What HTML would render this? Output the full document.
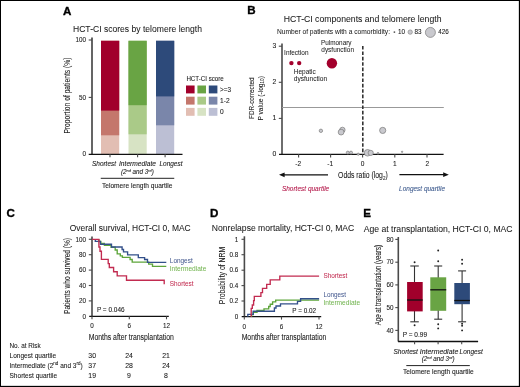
<!DOCTYPE html>
<html><head><meta charset="utf-8">
<style>
html,body{margin:0;padding:0;background:#fff;}
body{width:520px;height:387px;overflow:hidden;}
svg{display:block;will-change:transform;font-family:"Liberation Sans",sans-serif;}
text{fill:currentColor;stroke:currentColor;stroke-width:0.08px;color:#1a1a1a;}
.t{stroke-width:0.05px;}
.lt text{stroke-width:0.03px;}
.b{font-weight:bold;color:#000;stroke-width:0.35px;}
.it{font-style:italic;}
</style></head><body>
<svg width="520" height="387" viewBox="0 0 520 387">
<rect x="0" y="0" width="520" height="387" fill="#fff"/>

<!-- ============ PANEL A ============ -->
<text class="b" x="63.1" y="14.8" font-size="11.6">A</text>
<text class="t" x="73" y="32" font-size="8.4" textLength="129" lengthAdjust="spacingAndGlyphs">HCT-CI scores by telomere length</text>
<!-- y label -->
<text transform="translate(70.2,133.6) rotate(-90)" font-size="8.3" textLength="76" lengthAdjust="spacingAndGlyphs">Proportion of patients (%)</text>
<!-- ticks labels -->
<g font-size="6.3" text-anchor="end">
<text x="86" y="41.8">100</text>
<text x="86" y="99.8">50</text>
<text x="86" y="156.3">0</text>
</g>
<!-- bars -->
<g>
<rect x="101" y="40.8" width="18.2" height="113.4" fill="#e2beb3"/>
<rect x="101" y="40.8" width="18.2" height="94.5" fill="#c4776c"/>
<rect x="101" y="40.8" width="18.2" height="69.8" fill="#a1002b"/>
<rect x="128.5" y="40.8" width="18.2" height="113.4" fill="#d7e3c4"/>
<rect x="128.5" y="40.8" width="18.2" height="93.5" fill="#aaca88"/>
<rect x="128.5" y="40.8" width="18.2" height="64.4" fill="#69a444"/>
<rect x="156" y="40.8" width="18.2" height="113.4" fill="#bcbfd4"/>
<rect x="156" y="40.8" width="18.2" height="84.5" fill="#7a86aa"/>
<rect x="156" y="40.8" width="18.2" height="55.6" fill="#2d4a7a"/>
</g>
<!-- axes -->
<g stroke="#4a4a4a" fill="none">
<line x1="92" y1="37.5" x2="92" y2="154.3" stroke-width="1.7"/>
<line x1="88.7" y1="40" x2="92" y2="40" stroke-width="1.1"/>
<line x1="88.7" y1="97.4" x2="92" y2="97.4" stroke-width="1.1"/>
<line x1="88.7" y1="154.3" x2="182.5" y2="154.3" stroke-width="1.3" stroke="#111"/>
<line x1="110" y1="154.3" x2="110" y2="157.3" stroke-width="1.1"/>
<line x1="137.6" y1="154.3" x2="137.6" y2="157.3" stroke-width="1.1"/>
<line x1="165.1" y1="154.3" x2="165.1" y2="157.3" stroke-width="1.1"/>
<line x1="100.75" y1="178.3" x2="174.25" y2="178.3" stroke-width="1" stroke="#222"/>
</g>
<g font-size="6.3" class="it">
<text class="it" x="92" y="166" textLength="24" lengthAdjust="spacingAndGlyphs">Shortest</text>
<text class="it" x="119" y="166" textLength="37" lengthAdjust="spacingAndGlyphs">Intermediate</text>
<text class="it" x="159.5" y="166" textLength="23" lengthAdjust="spacingAndGlyphs">Longest</text>
<text class="it" x="121" y="174">(2<tspan font-size="3.8" dy="-2.2">nd</tspan><tspan dy="2.2"> and 3</tspan><tspan font-size="3.8" dy="-2.2">rd</tspan><tspan dy="2.2">)</tspan></text>
</g>
<text x="102" y="187.5" font-size="6.3" textLength="70.5" lengthAdjust="spacingAndGlyphs">Telomere length quartile</text>
<!-- legend -->
<text x="186.4" y="80.6" font-size="6.5" textLength="37.4" lengthAdjust="spacingAndGlyphs">HCT-CI score</text>
<g>
<rect x="186" y="85.5" width="8.6" height="7.9" fill="#a1002b"/>
<rect x="197.4" y="85.5" width="8.6" height="7.9" fill="#69a444"/>
<rect x="208.8" y="85.5" width="8.6" height="7.9" fill="#2d4a7a"/>
<rect x="186" y="96.7" width="8.6" height="7.9" fill="#c4776c"/>
<rect x="197.4" y="96.7" width="8.6" height="7.9" fill="#aaca88"/>
<rect x="208.8" y="96.7" width="8.6" height="7.9" fill="#7a86aa"/>
<rect x="186" y="107.9" width="8.6" height="7.9" fill="#e2beb3"/>
<rect x="197.4" y="107.9" width="8.6" height="7.9" fill="#d7e3c4"/>
<rect x="208.8" y="107.9" width="8.6" height="7.9" fill="#bcbfd4"/>
</g>
<g font-size="6.6">
<text x="220" y="91.8" textLength="11" lengthAdjust="spacingAndGlyphs">&gt;=3</text>
<text x="220" y="103.2" textLength="9.6" lengthAdjust="spacingAndGlyphs">1-2</text>
<text x="220" y="114.4">0</text>
</g>

<!-- ============ PANEL B ============ -->
<text class="b" x="247.2" y="14.3" font-size="11.6">B</text>
<text class="t" x="283.8" y="21.7" font-size="8.4" textLength="157.7" lengthAdjust="spacingAndGlyphs">HCT-CI components and telomere length</text>
<text x="277" y="34.1" font-size="6.4" style="stroke-width:0.03px" textLength="113" lengthAdjust="spacingAndGlyphs">Number of patients with a comorbidity:</text>
<circle cx="394.4" cy="32.1" r="0.9" fill="#555"/>
<text x="398.1" y="34.3" font-size="6.3">10</text>
<circle cx="410.2" cy="32.1" r="2.2" fill="#c9c9ce" stroke="#7a7a7a" stroke-width="0.6"/>
<text x="414.6" y="34.3" font-size="6.3">83</text>
<circle cx="430.4" cy="32.4" r="5" fill="#c9c9ce" stroke="#7a7a7a" stroke-width="0.7"/>
<text x="438.2" y="34.3" font-size="6.3">426</text>
<!-- y label -->
<text transform="translate(254,119) rotate(-90)" font-size="7.8" textLength="41.6" lengthAdjust="spacingAndGlyphs">FDR-corrected</text>
<text transform="translate(262.8,120.6) rotate(-90)" font-size="7.8" textLength="44.5" lengthAdjust="spacingAndGlyphs">P value (-log<tspan font-size="5.4" dy="1.6">10</tspan><tspan dy="-1.6">)</tspan></text>
<g font-size="6.8" text-anchor="end">
<text x="276.4" y="48">3</text>
<text x="276.4" y="83.9">2</text>
<text x="276.4" y="120.1">1</text>
<text x="276.4" y="156.3">0</text>
</g>
<g stroke="#4a4a4a" fill="none">
<line x1="282" y1="43.4" x2="282" y2="154.3" stroke-width="1.6"/>
<line x1="278.8" y1="46.2" x2="282" y2="46.2" stroke-width="1.1"/>
<line x1="278.8" y1="82.3" x2="282" y2="82.3" stroke-width="1.1"/>
<line x1="278.8" y1="118.4" x2="282" y2="118.4" stroke-width="1.1"/>
<line x1="282" y1="107.5" x2="443.8" y2="107.5" stroke="#999" stroke-width="1"/>
<line x1="362.8" y1="46" x2="362.8" y2="154" stroke="#333" stroke-width="1.6" stroke-dasharray="3.6 1.8"/>
<line x1="279" y1="154.3" x2="443.6" y2="154.3" stroke-width="1.3" stroke="#111"/>
<line x1="298.6" y1="154.3" x2="298.6" y2="157.5" stroke-width="1.1"/>
<line x1="330.6" y1="154.3" x2="330.6" y2="157.5" stroke-width="1.1"/>
<line x1="362.6" y1="154.3" x2="362.6" y2="157.5" stroke-width="1.1"/>
<line x1="394.8" y1="154.3" x2="394.8" y2="157.5" stroke-width="1.1"/>
<line x1="427" y1="154.3" x2="427" y2="157.5" stroke-width="1.1"/>
</g>
<g font-size="6.6" text-anchor="middle">
<text x="298.2" y="166.3">-2</text>
<text x="330.2" y="166.3">-1</text>
<text x="362.6" y="166.3">0</text>
<text x="394.8" y="166.3">1</text>
<text x="427.3" y="166.3">2</text>
</g>
<!-- bubbles -->
<g fill="#c9c9ce" stroke="#7a7a7a" stroke-width="0.7">
<circle cx="320.9" cy="130.8" r="1.7"/>
<circle cx="342.4" cy="129.9" r="2.7"/>
<circle cx="341.1" cy="132.1" r="2.9"/>
<circle cx="382.7" cy="130.4" r="3.1"/>
<circle cx="347.8" cy="152.6" r="1.5"/>
<circle cx="351" cy="152.6" r="1.5"/>
<circle cx="358.2" cy="154.2" r="1.1"/>
<circle cx="367.6" cy="152.8" r="3.3"/>
<circle cx="370.7" cy="152.9" r="2.6"/>
<circle cx="378" cy="153.3" r="0.9"/>
<circle cx="402.1" cy="151.8" r="0.7"/>
</g>
<g fill="#a3002c">
<circle cx="291.4" cy="63.1" r="2.2"/>
<circle cx="299.2" cy="63.1" r="2.2"/>
<circle cx="331.9" cy="63.3" r="5.2"/>
</g>
<g font-size="6.6" class="lt">
<text x="284.1" y="55.4" textLength="24.4" lengthAdjust="spacingAndGlyphs">Infection</text>
<text x="293.8" y="73.8" textLength="22" lengthAdjust="spacingAndGlyphs">Hepatic</text>
<text x="293.8" y="80.6" textLength="33.3" lengthAdjust="spacingAndGlyphs">dysfunction</text>
<text x="321" y="44.5" textLength="30.5" lengthAdjust="spacingAndGlyphs">Pulmonary</text>
<text x="321.3" y="51.6" textLength="32.7" lengthAdjust="spacingAndGlyphs">dysfunction</text>
</g>
<!-- arrows -->
<g stroke="#111" stroke-width="1.3">
<line x1="283" y1="174.8" x2="328" y2="174.8"/>
<line x1="399.4" y1="174.7" x2="444.5" y2="174.7"/>
</g>
<path d="M279,174.8 L284.6,172.4 L284.6,177.2 Z" fill="#111"/>
<path d="M448.8,174.7 L443.2,172.3 L443.2,177.1 Z" fill="#111"/>
<text x="338.1" y="177.8" font-size="8.7" textLength="49.6" lengthAdjust="spacingAndGlyphs">Odds ratio (log<tspan font-size="5.8" dy="1.8">2</tspan><tspan dy="-1.8">)</tspan></text>
<text class="it" x="281.9" y="190.6" font-size="6.8" textLength="47.3" lengthAdjust="spacingAndGlyphs" style="color:#b4184a">Shortest quartile</text>
<text class="it" x="399.1" y="190.6" font-size="6.8" textLength="46" lengthAdjust="spacingAndGlyphs" style="color:#3d5a8e">Longest quartile</text>

<!-- ============ PANEL C ============ -->
<text class="b" x="6.6" y="217.1" font-size="11.6">C</text>
<text class="t" x="69.7" y="231.3" font-size="8.4" textLength="121" lengthAdjust="spacingAndGlyphs">Overall survival, HCT-CI 0, MAC</text>
<text transform="translate(70.3,314) rotate(-90)" font-size="8.3" textLength="76" lengthAdjust="spacingAndGlyphs">Patients who survived (%)</text>
<g font-size="6.3" text-anchor="end">
<text x="86" y="241.5">100</text>
<text x="86" y="256.9">80</text>
<text x="86" y="272.3">60</text>
<text x="86" y="287.7">40</text>
<text x="86" y="303.1">20</text>
<text x="86" y="318.5">0</text>
</g>
<g stroke="#4a4a4a" fill="none">
<line x1="92" y1="236.5" x2="92" y2="316.3" stroke-width="1.6"/>
<line x1="88.8" y1="239.3" x2="92" y2="239.3" stroke-width="1.1"/>
<line x1="88.8" y1="254.7" x2="92" y2="254.7" stroke-width="1.1"/>
<line x1="88.8" y1="270.1" x2="92" y2="270.1" stroke-width="1.1"/>
<line x1="88.8" y1="285.5" x2="92" y2="285.5" stroke-width="1.1"/>
<line x1="88.8" y1="300.9" x2="92" y2="300.9" stroke-width="1.1"/>
<line x1="89.2" y1="316.3" x2="168.8" y2="316.3" stroke-width="1.3" stroke="#111"/>
<line x1="92" y1="316.3" x2="92" y2="319.3" stroke-width="1.1"/>
<line x1="129.3" y1="316.3" x2="129.3" y2="319.3" stroke-width="1.1"/>
<line x1="166.5" y1="316.3" x2="166.5" y2="319.3" stroke-width="1.1"/>
</g>
<g font-size="6.3" text-anchor="middle">
<text x="92" y="327.9">0</text>
<text x="129.3" y="327.9">6</text>
<text x="166.5" y="327.9">12</text>
</g>
<text x="96.9" y="312.4" font-size="6.3" textLength="27.7" lengthAdjust="spacingAndGlyphs">P = 0.046</text>
<text x="88.7" y="339.8" font-size="8.3" textLength="85.1" lengthAdjust="spacingAndGlyphs">Months after transplantation</text>
<g fill="none" stroke-width="1.35" stroke-linejoin="miter">

<path stroke="#5da53a" d="M99,239.3 V241.5 H100.8 V243.3 H104.4 V245.2 H111.1 V247.2 H115.2 V250 H117.2 V253.8 H120.3 V255.9 H122.4 V257.4 H130.1 V259.5 H132.2 V262.1 H148.7 V264.1 H152.5 V266.4 H166.3"/>
<path stroke="#33508a" d="M95.3,239.3 V241.3 H100.4 V244.2 H111.5 V247 H122.1 V249.5 H123.5 V251.8 H127.6 V254.8 H138.3 V257.6 H144.6 V259.5 H147.5 V262.3 H166.3"/>
<path stroke="#c22b50" d="M92,239.3 H98.9 V247 H100 V251.2 H101.4 V259.3 H108.2 V263.6 H109.3 V267.5 H113.6 V271.7 H117.2 V275.8 H126.5 V280.2 H164.2 V284.2"/>
</g>
<g font-size="6.6" class="lt">
<text x="169.8" y="263" textLength="22.9" lengthAdjust="spacingAndGlyphs" style="color:#44598f">Longest</text>
<text x="169.8" y="271.1" textLength="36.5" lengthAdjust="spacingAndGlyphs" style="color:#74b552">Intermediate</text>
<text x="169.8" y="286.1" textLength="23.8" lengthAdjust="spacingAndGlyphs" style="color:#c22b50">Shortest</text>
</g>
<!-- risk table -->
<g font-size="6.9">
<text x="9.5" y="348" textLength="31.2" lengthAdjust="spacingAndGlyphs">No. at Risk</text>
<text x="9.5" y="357.8" textLength="46.7" lengthAdjust="spacingAndGlyphs">Longest quartile</text>
<text x="9.5" y="367.9" textLength="73.2" lengthAdjust="spacingAndGlyphs">Intermediate (2<tspan font-size="4.8" dy="-2.6">nd</tspan><tspan dy="2.6"> and 3</tspan><tspan font-size="4.8" dy="-2.6">rd</tspan><tspan dy="2.6">)</tspan></text>
<text x="9.5" y="377.9" textLength="47.6" lengthAdjust="spacingAndGlyphs">Shortest quartile</text>
</g>
<g font-size="6.9" text-anchor="middle">
<text x="92.2" y="357.7">30</text><text x="129" y="357.7">24</text><text x="166" y="357.7">21</text>
<text x="92.2" y="367.6">37</text><text x="129" y="367.6">28</text><text x="166" y="367.6">24</text>
<text x="92.2" y="377.6">19</text><text x="129" y="377.6">9</text><text x="166" y="377.6">8</text>
</g>

<!-- ============ PANEL D ============ -->
<text class="b" x="210" y="216.9" font-size="11.6">D</text>
<text class="t" x="211.8" y="231.2" font-size="8.4" textLength="142.5" lengthAdjust="spacingAndGlyphs">Nonrelapse mortality, HCT-CI 0, MAC</text>
<text transform="translate(224.9,304.2) rotate(-90)" font-size="8.3" textLength="57.5" lengthAdjust="spacingAndGlyphs">Probability of NRM</text>
<g font-size="6.3" text-anchor="end">
<text x="238.3" y="241.5">1</text>
<text x="238.3" y="256.9">0.8</text>
<text x="238.3" y="272.3">0.6</text>
<text x="238.3" y="287.7">0.4</text>
<text x="238.3" y="303.1">0.2</text>
<text x="238.3" y="318.7">0</text>
</g>
<g stroke="#4a4a4a" fill="none">
<line x1="244.4" y1="236.3" x2="244.4" y2="316.6" stroke-width="1.6"/>
<line x1="241.5" y1="239.3" x2="244.4" y2="239.3" stroke-width="1.1"/>
<line x1="241.5" y1="254.7" x2="244.4" y2="254.7" stroke-width="1.1"/>
<line x1="241.5" y1="270.2" x2="244.4" y2="270.2" stroke-width="1.1"/>
<line x1="241.5" y1="285.6" x2="244.4" y2="285.6" stroke-width="1.1"/>
<line x1="241.5" y1="301" x2="244.4" y2="301" stroke-width="1.1"/>
<line x1="241.7" y1="316.6" x2="321.2" y2="316.6" stroke-width="1.3" stroke="#111"/>
<line x1="244.3" y1="316.6" x2="244.3" y2="319.6" stroke-width="1.1"/>
<line x1="281.5" y1="316.6" x2="281.5" y2="319.6" stroke-width="1.1"/>
<line x1="319" y1="316.6" x2="319" y2="319.6" stroke-width="1.1"/>
</g>
<g font-size="6.3" text-anchor="middle">
<text x="244.3" y="328.6">0</text>
<text x="281.5" y="328.6">6</text>
<text x="319.1" y="328.6">12</text>
</g>
<text x="292.3" y="312.5" font-size="6.3" textLength="23.7" lengthAdjust="spacingAndGlyphs">P = 0.02</text>
<text x="241.7" y="339.8" font-size="8.3" textLength="84.6" lengthAdjust="spacingAndGlyphs">Months after transplantation</text>
<g fill="none" stroke-width="1.35">

<path stroke="#5da53a" d="M251.6,316.8 V314.6 H253.2 V312.4 H257 V310.4 H264 V308.8 H268.7 V306.5 H270.2 V304.2 H272.6 V301.9 H275.7 V300.1 H319.1"/>
<path stroke="#33508a" d="M247.8,316.8 V314.3 H253.2 V311.2 H274.4 V308 H276 V306 H280.5 V303.8 H297.5 V301.3 H300.6 V298.7 H319.1"/>
<path stroke="#c22b50" d="M251.2,316.8 V308.4 H252.3 V305 H253.6 V300.6 H254.3 V296.4 H260.9 V292.6 H262.5 V288.4 H266.7 V284.3 H270.2 V279.9 H279.8 V276.1 H319.1"/>
</g>
<g font-size="6.6" class="lt">
<text x="323.4" y="278.1" textLength="23.9" lengthAdjust="spacingAndGlyphs" style="color:#c22b50">Shortest</text>
<text x="323.4" y="297.2" textLength="22.5" lengthAdjust="spacingAndGlyphs" style="color:#44598f">Longest</text>
<text x="323.4" y="304.5" textLength="36.7" lengthAdjust="spacingAndGlyphs" style="color:#74b552">Intermediate</text>
</g>

<!-- ============ PANEL E ============ -->
<text class="b" x="363.3" y="217.2" font-size="11.6">E</text>
<text class="t" x="363.7" y="231.5" font-size="8.4" textLength="148.9" lengthAdjust="spacingAndGlyphs">Age at transplantation, HCT-CI 0, MAC</text>
<text transform="translate(381.2,325.3) rotate(-90)" font-size="8.3" textLength="80.3" lengthAdjust="spacingAndGlyphs">Age at transplantation (years)</text>
<g font-size="6.3" text-anchor="end">
<text x="393.5" y="241.6">80</text>
<text x="393.5" y="264.4">70</text>
<text x="393.5" y="287.1">60</text>
<text x="393.5" y="309.8">50</text>
<text x="393.5" y="332.6">40</text>
</g>
<g stroke="#4a4a4a" fill="none">
<line x1="398.3" y1="237" x2="398.3" y2="341.5" stroke-width="1.6"/>
<line x1="395.3" y1="239.4" x2="398.3" y2="239.4" stroke-width="1.1"/>
<line x1="395.3" y1="262.2" x2="398.3" y2="262.2" stroke-width="1.1"/>
<line x1="395.3" y1="284.9" x2="398.3" y2="284.9" stroke-width="1.1"/>
<line x1="395.3" y1="307.6" x2="398.3" y2="307.6" stroke-width="1.1"/>
<line x1="395.3" y1="330.4" x2="398.3" y2="330.4" stroke-width="1.1"/>
<line x1="398.1" y1="341.5" x2="478.1" y2="341.5" stroke-width="1.3" stroke="#111"/>
<line x1="414.6" y1="341.5" x2="414.6" y2="344.2" stroke-width="1.1"/>
<line x1="438.1" y1="341.5" x2="438.1" y2="344.2" stroke-width="1.1"/>
<line x1="461.7" y1="341.5" x2="461.7" y2="344.2" stroke-width="1.1"/>
</g>
<!-- whiskers -->
<g stroke="#333" stroke-width="1.1" fill="none">
<line x1="414.5" y1="266" x2="414.5" y2="321.8"/>
<line x1="410.3" y1="266" x2="418.8" y2="266"/>
<line x1="410.3" y1="321.8" x2="418.8" y2="321.8"/>
<line x1="438.2" y1="266" x2="438.2" y2="319.2"/>
<line x1="434.2" y1="266" x2="442.2" y2="266"/>
<line x1="434.2" y1="319.2" x2="442.2" y2="319.2"/>
<line x1="462.1" y1="270.9" x2="462.1" y2="321.8"/>
<line x1="458.1" y1="270.9" x2="466.1" y2="270.9"/>
<line x1="458.1" y1="321.8" x2="466.1" y2="321.8"/>
</g>
<rect x="407.1" y="282" width="15.6" height="29.4" fill="#a1002b"/>
<rect x="430.3" y="277.3" width="15.9" height="33.5" fill="#69a444"/>
<rect x="454.3" y="283" width="15.6" height="21.2" fill="#2d4a7a"/>
<g stroke="#111" stroke-width="1.3">
<line x1="407.1" y1="300" x2="422.7" y2="300"/>
<line x1="430.3" y1="289.8" x2="446.2" y2="289.8"/>
<line x1="454.3" y1="300.5" x2="469.9" y2="300.5"/>
</g>
<g fill="#222">
<circle cx="414.6" cy="262.2" r="0.95"/>
<circle cx="414.6" cy="325.2" r="0.95"/>
<circle cx="438.2" cy="250.5" r="0.95"/>
<circle cx="438.2" cy="261.3" r="0.95"/>
<circle cx="438.2" cy="324.2" r="0.95"/>
<circle cx="438.2" cy="328.4" r="0.95"/>
<circle cx="462.1" cy="259.8" r="0.95"/>
<circle cx="462.1" cy="263.7" r="0.95"/>
<circle cx="462.1" cy="323.8" r="0.95"/>
<circle cx="462.1" cy="325.8" r="0.95"/>
<circle cx="462.1" cy="330.4" r="0.95"/>
</g>
<text x="402.7" y="336.8" font-size="6.3" textLength="24.4" lengthAdjust="spacingAndGlyphs">P = 0.99</text>
<g font-size="6.3" class="it">
<text class="it" x="393.5" y="353.5" textLength="24.4" lengthAdjust="spacingAndGlyphs">Shortest</text>
<text class="it" x="419.8" y="353.5" textLength="38.5" lengthAdjust="spacingAndGlyphs">Intermediate</text>
<text class="it" x="459.6" y="353.5" textLength="23.1" lengthAdjust="spacingAndGlyphs">Longest</text>
<text class="it" x="421.7" y="360.8">(2<tspan font-size="3.8" dy="-2.2">nd</tspan><tspan dy="2.2"> and 3</tspan><tspan font-size="3.8" dy="-2.2">rd</tspan><tspan dy="2.2">)</tspan></text>
</g>
<line x1="406.3" y1="365.6" x2="469.8" y2="365.6" stroke="#222" stroke-width="1"/>
<text x="403" y="373.8" font-size="6.3" textLength="70.7" lengthAdjust="spacingAndGlyphs">Telomere length quartile</text>

<!-- border -->
<rect x="0.5" y="0.5" width="519" height="386" fill="none" stroke="#000" stroke-width="1"/>
<rect x="518.85" y="0" width="1.15" height="387" fill="#000"/>
<rect x="0" y="385.85" width="520" height="1.15" fill="#000"/>
</svg>
</body></html>
